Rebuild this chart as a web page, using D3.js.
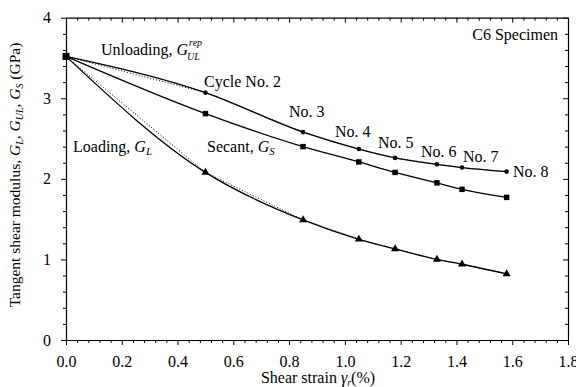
<!DOCTYPE html>
<html>
<head>
<meta charset="utf-8">
<script src="https://cdn.jsdelivr.net/npm/d3@7"></script>
<style>
  html, body { margin: 0; padding: 0; background: #fff; }
  svg { display: block; }
  svg text { font-family: "Liberation Serif", "Times New Roman", Times, "DejaVu Serif", serif !important; fill: #000; }
</style>
</head>
<body>
<svg id="chart" width="576" height="387"></svg>
<script>
// Shear strain (%) at each cycle, origin first
const strain = [0, 0.5, 0.85, 1.05, 1.18, 1.33, 1.42, 1.58];
// Moduli in GPa
const loadingG   = [3.52, 2.08, 1.49, 1.25, 1.13, 1.00, 0.94, 0.82];
const secantG    = [3.52, 2.81, 2.40, 2.21, 2.08, 1.95, 1.87, 1.77];
const unloadingG = [3.52, 3.07, 2.58, 2.37, 2.26, 2.18, 2.14, 2.09];
// Cycle labels next to the unloading points
const cycleLabels = ["Cycle No. 2", "No. 3", "No. 4", "No. 5", "No. 6", "No. 7", "No. 8"];
const xTicks = [0, 0.2, 0.4, 0.6, 0.8, 1.0, 1.2, 1.4, 1.6, 1.8];
const yTicks = [0, 1, 2, 3, 4];

const svg = d3.select("#chart");
const x = d3.scaleLinear().domain([0, 1.8]).range([66, 568]);
const y = d3.scaleLinear().domain([0, 4]).range([340, 17.7]);

const xMinor = d3.range(0, 1.8001, 0.04).filter(v => Math.abs(v / 0.2 - Math.round(v / 0.2)) > 1e-6);
const yMinor = d3.range(0, 4.0001, 0.2).filter(v => Math.abs(v - Math.round(v)) > 1e-6);

function styleAxis(g) {
  g.attr("font-family", null);
  g.selectAll("path.domain").attr("stroke", "#000").attr("stroke-width", 1.2);
  g.selectAll(".tick line").attr("stroke", "#000").attr("stroke-width", 1);
}

// Bottom axis (ticks outward)
const gb = svg.append("g").attr("transform", `translate(0,${y(0)})`)
  .call(d3.axisBottom(x).tickValues(xTicks).tickFormat(d3.format(".1f")).tickSizeInner(5).tickSizeOuter(0).tickPadding(11));
styleAxis(gb);
gb.selectAll("text").style("font-size", "16px");
svg.append("g").attr("transform", `translate(0,${y(0)})`)
  .call(d3.axisBottom(x).tickValues(xMinor).tickFormat("").tickSizeInner(3).tickSizeOuter(0))
  .call(styleAxis).call(g => g.select("path.domain").remove());

// Left axis (ticks outward)
const gl = svg.append("g").attr("transform", `translate(${x(0)},0)`)
  .call(d3.axisLeft(y).tickValues(yTicks).tickFormat(d3.format("d")).tickSizeInner(5).tickSizeOuter(0).tickPadding(10));
styleAxis(gl);
gl.selectAll("text").style("font-size", "16px");
svg.append("g").attr("transform", `translate(${x(0)},0)`)
  .call(d3.axisLeft(y).tickValues(yMinor).tickFormat("").tickSizeInner(3).tickSizeOuter(0))
  .call(styleAxis).call(g => g.select("path.domain").remove());

// Top axis (ticks inward)
svg.append("g").attr("transform", `translate(0,${y(4)})`)
  .call(d3.axisTop(x).tickValues(xTicks).tickFormat("").tickSizeInner(-5).tickSizeOuter(0))
  .call(styleAxis);
svg.append("g").attr("transform", `translate(0,${y(4)})`)
  .call(d3.axisTop(x).tickValues(xMinor).tickFormat("").tickSizeInner(-3).tickSizeOuter(0))
  .call(styleAxis).call(g => g.select("path.domain").remove());

// Right axis (ticks inward)
svg.append("g").attr("transform", `translate(${x(1.8)},0)`)
  .call(d3.axisRight(y).tickValues(yTicks).tickFormat("").tickSizeInner(-5).tickSizeOuter(0))
  .call(styleAxis);
svg.append("g").attr("transform", `translate(${x(1.8)},0)`)
  .call(d3.axisRight(y).tickValues(yMinor).tickFormat("").tickSizeInner(-3).tickSizeOuter(0))
  .call(styleAxis).call(g => g.select("path.domain").remove());

// Series: dotted chords between measured points, solid fitted curves
const series = [
  { vals: loadingG,   dotted: true,  marker: "triangle" },
  { vals: secantG,    dotted: false, marker: "square" },
  { vals: unloadingG, dotted: true,  marker: "circle" }
];
const chord = d3.line().x((d, i) => x(strain[i])).y(d => y(d));
const smooth = d3.line().x((d, i) => x(strain[i])).y(d => y(d)).curve(d3.curveMonotoneX);

series.forEach(s => {
  if (s.dotted) {
    svg.append("path").attr("d", chord(s.vals)).attr("fill", "none")
      .attr("stroke", "#000").attr("stroke-width", 1).attr("stroke-dasharray", "1,2");
  }
  svg.append("path").attr("d", smooth(s.vals)).attr("fill", "none")
    .attr("stroke", "#000").attr("stroke-width", 1.3);
});

const triangle = d3.symbol().type(d3.symbolTriangle).size(28);
const square = d3.symbol().type(d3.symbolSquare).size(30);
series.forEach(s => {
  s.vals.forEach((v, i) => {
    if (i === 0) return;
    const px = x(strain[i]), py = y(v);
    if (s.marker === "triangle") {
      svg.append("path").attr("d", triangle()).attr("transform", `translate(${px},${py})`).attr("fill", "#000");
    } else if (s.marker === "square") {
      svg.append("path").attr("d", square()).attr("transform", `translate(${px},${py})`).attr("fill", "#000");
    } else {
      svg.append("circle").attr("cx", px).attr("cy", py).attr("r", 2.3).attr("fill", "#000");
    }
  });
});
// Common starting point
svg.append("rect").attr("x", x(strain[0]) - 3.5).attr("y", y(loadingG[0]) - 3.5)
  .attr("width", 7).attr("height", 7).attr("fill", "#000");

// Annotations
const fs = 16;
function label(tx, ty, parts, anchor) {
  const t = svg.append("text").attr("x", tx).attr("y", ty).style("font-size", fs + "px")
    .attr("text-anchor", anchor || "start");
  parts.forEach(p => {
    const ts = t.append("tspan").text(p.t);
    if (p.i) ts.style("font-style", "italic");
    if (p.s) ts.style("font-size", p.s + "px");
    if (p.dy) ts.attr("dy", p.dy);
  });
  return t;
}
// "Unloading, G" with stacked superscript/subscript drawn as separate texts
const ul = label(101, 55, [{ t: "Unloading, " }, { t: "G", i: 1 }]);
const ulEnd = 101 + ul.node().getComputedTextLength();
label(ulEnd + 1, 46, [{ t: "rep", i: 1, s: 10 }]);
label(ulEnd - 1, 60, [{ t: "UL", i: 1, s: 10 }]);

label(73, 152, [{ t: "Loading, " }, { t: "G", i: 1 }, { t: "L", i: 1, s: 11, dy: 3 }]);
label(207, 152, [{ t: "Secant, " }, { t: "G", i: 1 }, { t: "S", i: 1, s: 11, dy: 3 }]);
label(558, 40, [{ t: "C6 Specimen" }], "end");

const cyclePos = [[204, 87], [289, 117], [335, 137], [378, 148], [421, 157], [463, 162], [513, 177]];
cycleLabels.forEach((c, i) => label(cyclePos[i][0], cyclePos[i][1], [{ t: c }]));

// Axis titles
label(318, 383, [{ t: "Shear strain " }, { t: "γ", i: 1 }, { t: "r", i: 1, s: 10, dy: 3 }, { t: "(%)", dy: -3 }], "middle");

const yt = svg.append("text").attr("transform", "translate(20,175) rotate(-90)")
  .attr("text-anchor", "middle").style("font-size", "15.5px");
[
  { t: "Tangent shear modulus, " }, { t: "G", i: 1 }, { t: "L", i: 1, s: 10, dy: 3 },
  { t: ", ", dy: -3 }, { t: "G", i: 1 }, { t: "UL", i: 1, s: 10, dy: 3 },
  { t: ", ", dy: -3 }, { t: "G", i: 1 }, { t: "S", i: 1, s: 10, dy: 3 },
  { t: " (GPa)", dy: -3 }
].forEach(p => {
  const ts = yt.append("tspan").text(p.t);
  if (p.i) ts.style("font-style", "italic");
  if (p.s) ts.style("font-size", p.s + "px");
  if (p.dy) ts.attr("dy", p.dy);
});
</script>
</body>
</html>
